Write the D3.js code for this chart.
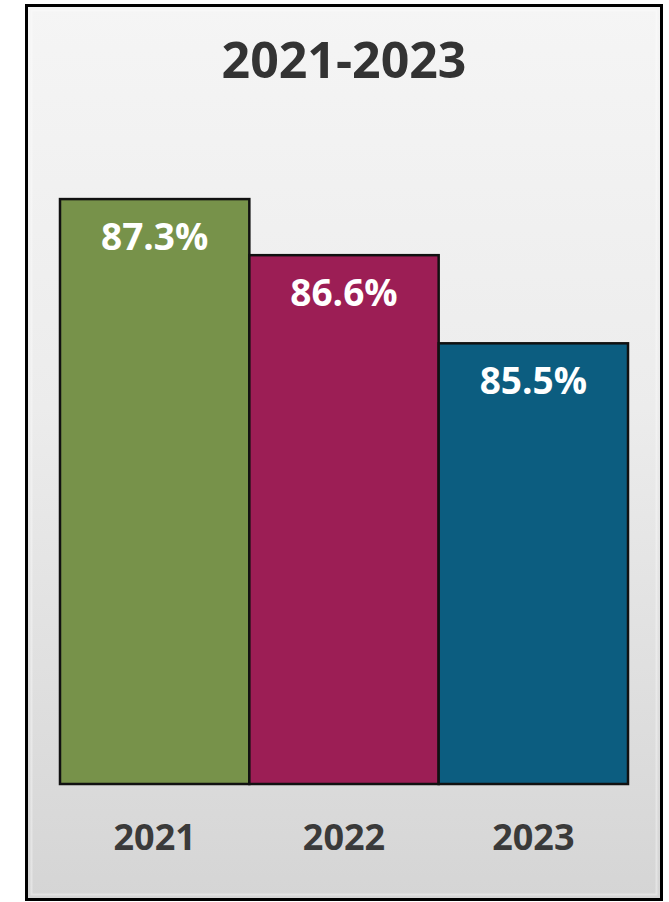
<!DOCTYPE html>
<html>
<head>
<meta charset="utf-8">
<script src="https://cdn.jsdelivr.net/npm/d3@7"></script>
<style>
  html, body { margin: 0; padding: 0; background: #ffffff; }
  svg { display: block; }
</style>
</head>
<body>
<svg id="chart" width="669" height="902"></svg>
<script>
// Chart data
const title = "2021-2023";
const years = ["2021", "2022", "2023"];
const rates = [87.3, 86.6, 85.5];
const barColors = ["#77924a", "#9c1e55", "#0c5d80"];

const svg = d3.select("#chart");

// Panel background: soft vertical grey gradient inside a black frame
const defs = svg.append("defs");
const grad = defs.append("linearGradient")
  .attr("id", "panelGrad").attr("x1", 0).attr("y1", 0).attr("x2", 0).attr("y2", 1);
grad.append("stop").attr("offset", "0%").attr("stop-color", "#f5f5f5");
grad.append("stop").attr("offset", "45%").attr("stop-color", "#ececec");
grad.append("stop").attr("offset", "100%").attr("stop-color", "#d5d5d5");

const frame = { x: 26.5, y: 5.5, w: 635, h: 894 };
svg.append("rect")
  .attr("x", frame.x).attr("y", frame.y)
  .attr("width", frame.w).attr("height", frame.h)
  .attr("fill", "url(#panelGrad)")
  .attr("stroke", "#000").attr("stroke-width", 3);

// Faint inner highlight line
svg.append("rect")
  .attr("x", frame.x + 5).attr("y", frame.y + 5)
  .attr("width", frame.w - 10).attr("height", frame.h - 10)
  .attr("fill", "none")
  .attr("stroke", "#ffffff").attr("stroke-opacity", 0.35).attr("stroke-width", 2);

// Scales
const x = d3.scaleBand().domain(years).range([60, 628]).padding(0);
const y = d3.scaleLinear().domain([80, 88]).range([784, 143]);

// Title
svg.append("text")
  .attr("x", 344).attr("y", 78)
  .attr("text-anchor", "middle")
  .attr("font-family", "'Open Sans', sans-serif")
  .attr("font-weight", 700)
  .attr("font-size", 50)
  .attr("fill", "#333333")
  .text(title);

const data = years.map((yr, i) => ({ year: yr, value: rates[i], color: barColors[i] }));

// Bars
svg.append("g").selectAll("rect")
  .data(data).join("rect")
  .attr("x", d => x(d.year))
  .attr("y", d => y(d.value))
  .attr("width", x.bandwidth())
  .attr("height", d => y(80) - y(d.value))
  .attr("fill", d => d.color)
  .attr("stroke", "#111111")
  .attr("stroke-width", 2.5);

// Value labels inside the bars
svg.append("g").selectAll("text")
  .data(data).join("text")
  .attr("x", d => x(d.year) + x.bandwidth() / 2)
  .attr("y", d => y(d.value) + 51)
  .attr("text-anchor", "middle")
  .attr("font-family", "'Open Sans', sans-serif")
  .attr("font-weight", 700)
  .attr("font-size", 37)
  .attr("fill", "#ffffff")
  .text(d => d.value.toFixed(1) + "%");

// Category axis labels
const xAxis = svg.append("g")
  .attr("transform", `translate(0, ${y(80)})`)
  .call(d3.axisBottom(x).tickSize(0).tickPadding(0));
xAxis.select(".domain").remove();
xAxis.selectAll("text")
  .attr("dy", null)
  .attr("y", 66)
  .attr("font-family", "'Open Sans', sans-serif")
  .attr("font-weight", 700)
  .attr("font-size", 36)
  .attr("fill", "#3a3a3a");
</script>
</body>
</html>
